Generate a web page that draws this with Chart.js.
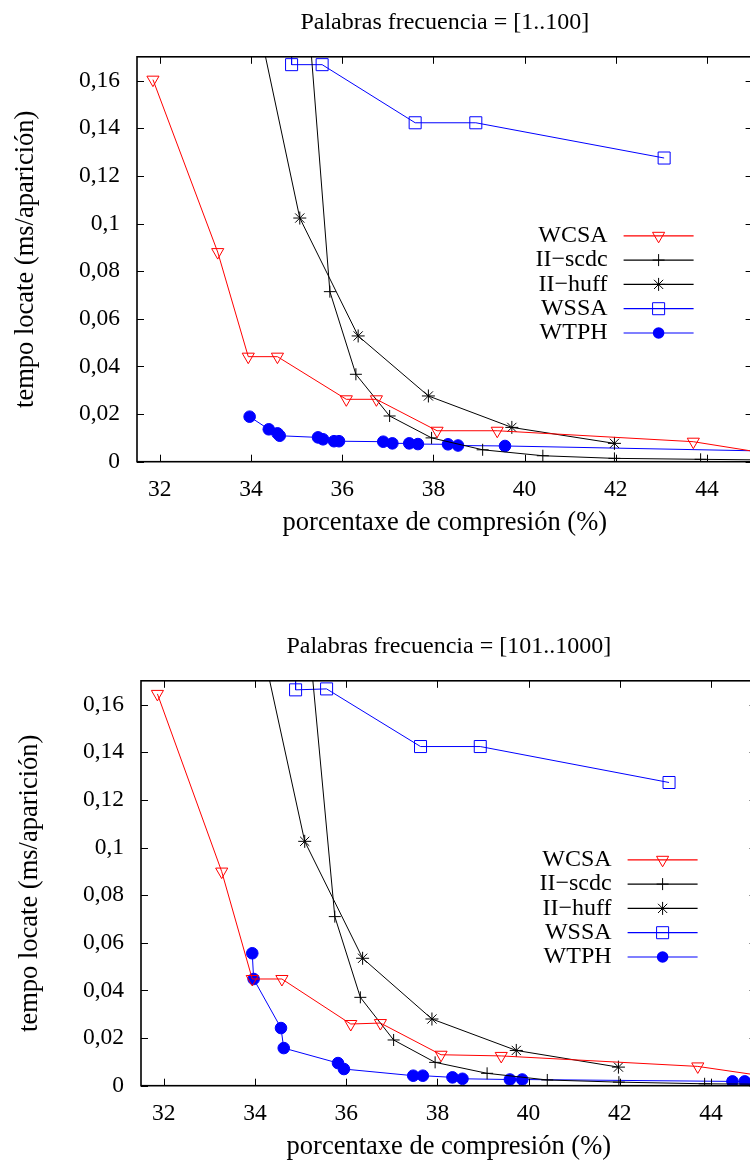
<!DOCTYPE html>
<html><head><meta charset="utf-8">
<script src="https://cdn.jsdelivr.net/npm/chart.js"></script>
<style>
html,body{margin:0;padding:0;background:#fff;overflow:hidden;width:750px;height:1164px;position:relative;}
canvas{position:absolute;}
#c1{left:0;top:0;}
#c2{left:4px;top:624px;}
</style></head>
<body>
<canvas id="c1" width="770" height="540"></canvas>
<canvas id="c2" width="770" height="540"></canvas>
<script>
// ---------- data ----------
const seriesNames = ['WCSA', 'II\u2212scdc', 'II\u2212huff', 'WSSA', 'WTPH'];
const titles = ['Palabras frecuencia = [1..100]', 'Palabras frecuencia = [101..1000]'];
const xAxisTitle = 'porcentaxe de compresión (%)';
const yAxisTitle = 'tempo locate (ms/aparición)';
const xTicks = [32, 34, 36, 38, 40, 42, 44];
const xTickLabels = ['32', '34', '36', '38', '40', '42', '44'];
const yTicks = [0, 0.02, 0.04, 0.06, 0.08, 0.1, 0.12, 0.14, 0.16];
const yTickLabels = ['0', '0,02', '0,04', '0,06', '0,08', '0,1', '0,12', '0,14', '0,16'];

// chart 1: [1..100]
const wcsa1X = [31.85, 33.27, 33.94, 34.58, 36.09, 36.75, 38.08, 39.40, 43.70, 45.5];
const wcsa1Y = [0.1604, 0.0880, 0.0441, 0.0441, 0.0262, 0.0262, 0.0130, 0.0130, 0.0084, 0.0029];
const scdc1X = [35.00, 35.73, 36.30, 37.04, 37.96, 39.08, 40.40, 41.97, 43.86, 46.0];
const scdc1Y = [0.25, 0.0714, 0.0367, 0.0192, 0.0100, 0.0050, 0.0025, 0.0014, 0.0010, 0.0006];
const huff1X = [33.43, 35.07, 36.35, 37.89, 39.72, 41.97];
const huff1Y = [0.25, 0.1023, 0.0528, 0.0276, 0.0144, 0.0077];
const wssa1X = [34.88, 34.89, 35.56, 37.60, 38.93, 43.06];
const wssa1Y = [0.35, 0.1667, 0.1667, 0.1423, 0.1423, 0.1275];
const wtph1X = [33.97, 34.39, 34.58, 34.63, 35.47, 35.58, 35.82, 35.93, 36.90, 37.10, 37.47, 37.66, 38.32, 38.54, 39.57, 45.5];
const wtph1Y = [0.0189, 0.0136, 0.0119, 0.0109, 0.0102, 0.0094, 0.0086, 0.0086, 0.0084, 0.0077, 0.0077, 0.0074, 0.0073, 0.0068, 0.0066, 0.0044];

// chart 2: [101..1000]
const wcsa2X = [31.86, 33.27, 33.94, 34.59, 36.10, 36.75, 38.08, 39.40, 43.71, 45.5];
const wcsa2Y = [0.1645, 0.0899, 0.0448, 0.0448, 0.0259, 0.0263, 0.0130, 0.0125, 0.0081, 0.0031];
const scdc2X = [34.88, 35.75, 36.31, 37.04, 37.95, 39.09, 40.41, 41.98, 43.86, 46.0];
const scdc2Y = [0.25, 0.0710, 0.0371, 0.0192, 0.0098, 0.0052, 0.0024, 0.0015, 0.0008, 0.0005];
const huff2X = [33.41, 35.09, 36.36, 37.88, 39.73, 41.97];
const huff2Y = [0.25, 0.1026, 0.0535, 0.0280, 0.0148, 0.0078];
const wssa2X = [34.88, 34.89, 35.57, 37.63, 38.94, 43.08];
const wssa2Y = [0.35, 0.1662, 0.1666, 0.1424, 0.1424, 0.1273];
const wtph2X = [33.94, 33.97, 34.57, 34.63, 35.82, 35.95, 37.47, 37.68, 38.33, 38.55, 39.59, 39.86, 44.47, 44.74];
const wtph2Y = [0.0556, 0.0448, 0.0242, 0.0158, 0.0095, 0.0070, 0.0042, 0.0042, 0.0035, 0.0029, 0.0026, 0.0026, 0.0018, 0.0018];

// ---------- styling ----------
const FONT = "'Liberation Serif', 'Times New Roman', serif";
const RED = '#ff0000', BLACK = '#000000', BLUE = '#0000ff';
const styles = [
  {color: RED, pointStyle: 'triangle', rotation: 180, radius: 7, fill: 'rgba(0,0,0,0)'},
  {color: BLACK, pointStyle: 'cross', rotation: 0, radius: 6, fill: 'rgba(0,0,0,0)'},
  {color: BLACK, pointStyle: 'star', rotation: 0, radius: 6.5, fill: 'rgba(0,0,0,0)'},
  {color: BLUE, pointStyle: 'rect', rotation: 0, radius: 8.5, fill: 'rgba(0,0,0,0)'},
  {color: BLUE, pointStyle: 'circle', rotation: 0, radius: 5.8, fill: BLUE}
];

function pts(xs, ys) { return xs.map((x, i) => ({x: x, y: ys[i]})); }

function makeDatasets(series) {
  return series.map((s, i) => ({
    label: seriesNames[i],
    data: pts(s[0], s[1]),
    showLine: true,
    borderColor: styles[i].color,
    backgroundColor: styles[i].fill,
    borderWidth: 1,
    pointStyle: styles[i].pointStyle,
    pointRotation: styles[i].rotation,
    pointRadius: styles[i].radius,
    pointBorderWidth: 1,
    pointBorderColor: styles[i].color,
    pointBackgroundColor: styles[i].fill,
    tension: 0
  }));
}

function drawMarker(ctx, st, x, y) {
  const r = st.radius;
  ctx.save();
  ctx.strokeStyle = st.color; ctx.fillStyle = st.fill; ctx.lineWidth = 1;
  ctx.beginPath();
  if (st.pointStyle === 'triangle') {
    ctx.moveTo(x, y + r);
    ctx.lineTo(x - r * Math.sin(Math.PI / 3), y - r / 2);
    ctx.lineTo(x + r * Math.sin(Math.PI / 3), y - r / 2);
    ctx.closePath(); ctx.stroke();
  } else if (st.pointStyle === 'cross') {
    ctx.moveTo(x - r, y); ctx.lineTo(x + r, y);
    ctx.moveTo(x, y - r); ctx.lineTo(x, y + r); ctx.stroke();
  } else if (st.pointStyle === 'star') {
    const d = r * Math.SQRT1_2;
    ctx.moveTo(x - r, y); ctx.lineTo(x + r, y);
    ctx.moveTo(x, y - r); ctx.lineTo(x, y + r);
    ctx.moveTo(x - d, y - d); ctx.lineTo(x + d, y + d);
    ctx.moveTo(x - d, y + d); ctx.lineTo(x + d, y - d); ctx.stroke();
  } else if (st.pointStyle === 'rect') {
    const s = r * Math.SQRT1_2;
    ctx.rect(x - s, y - s, 2 * s, 2 * s); ctx.stroke();
  } else {
    ctx.arc(x, y, r, 0, Math.PI * 2); ctx.fillStyle = st.fill; ctx.fill();
  }
  ctx.restore();
}

const framePlugin = {
  id: 'frame',
  afterDatasetsDraw(chart) {
    const {ctx, chartArea: a, scales: {x, y}} = chart;
    const L = 7;
    ctx.save();
    ctx.strokeStyle = '#000'; ctx.lineWidth = 1;
    ctx.beginPath();
    xTicks.forEach(v => {
      const px = Math.round(x.getPixelForValue(v)) + 0.5;
      ctx.moveTo(px, a.bottom); ctx.lineTo(px, a.bottom - L);
      ctx.moveTo(px, a.top); ctx.lineTo(px, a.top + L);
    });
    yTicks.forEach(v => {
      const py = Math.round(y.getPixelForValue(v)) + 0.5;
      ctx.moveTo(a.left, py); ctx.lineTo(a.left + L, py);
      ctx.moveTo(a.right, py); ctx.lineTo(a.right - L, py);
    });
    ctx.stroke();
    ctx.lineWidth = 1.6;
    ctx.strokeRect(a.left, a.top, a.right - a.left, a.bottom - a.top);
    ctx.restore();
  }
};

const legendPlugin = {
  id: 'legendRight',
  afterDraw(chart) {
    const {ctx, chartArea: a} = chart;
    chart.data.datasets.forEach((ds, i) => {
      const yy = a.top + 179 + i * 24.3;
      ctx.save();
      ctx.font = '24px ' + FONT;
      ctx.fillStyle = '#000';
      ctx.textAlign = 'right';
      ctx.textBaseline = 'middle';
      ctx.fillText(ds.label, a.right - 145, yy);
      ctx.strokeStyle = styles[i].color;
      ctx.lineWidth = 1.2;
      ctx.beginPath();
      ctx.moveTo(a.right - 129, yy); ctx.lineTo(a.right - 59, yy);
      ctx.stroke();
      ctx.restore();
      drawMarker(ctx, styles[i], a.right - 94, yy);
    });
  }
};

function makeChart(id, title, series) {
  return new Chart(document.getElementById(id), {
    type: 'scatter',
    data: {datasets: makeDatasets(series)},
    options: {
      responsive: false,
      animation: false,
      devicePixelRatio: 1,
      layout: {padding: {left: 0, right: 17.4, top: 0, bottom: 0}},
      plugins: {
        legend: {display: false},
        tooltip: {enabled: false},
        title: {
          display: true, text: title, fullSize: false, color: '#000',
          font: {family: FONT, size: 24, weight: 'normal'},
          padding: {top: 8, bottom: 20}
        }
      },
      scales: {
        x: {
          type: 'linear', min: 31.5, max: 45,
          grid: {display: false, drawTicks: false},
          border: {display: false},
          afterBuildTicks: s => { s.ticks = xTicks.map(v => ({value: v})); },
          afterFit: s => { s.height = 78.3; },
          ticks: {
            color: '#000', font: {family: FONT, size: 23.5}, padding: 14,
            maxRotation: 0, autoSkip: false,
            callback: (v, i) => xTickLabels[i]
          },
          title: {
            display: true, text: xAxisTitle, color: '#000',
            font: {family: FONT, size: 26.5}, padding: {top: 0, bottom: 1.4}
          }
        },
        y: {
          type: 'linear', min: 0, max: 0.17,
          grid: {display: false, drawTicks: false},
          border: {display: false},
          afterBuildTicks: s => { s.ticks = yTicks.map(v => ({value: v})); },
          afterFit: s => { s.width = 137; },
          ticks: {
            color: '#000', font: {family: FONT, size: 23.5}, padding: 17,
            autoSkip: false,
            callback: (v, i) => yTickLabels[i]
          },
          title: {
            display: true, text: yAxisTitle, color: '#000',
            font: {family: FONT, size: 26.5}, padding: {top: 10, bottom: 0}
          }
        }
      }
    },
    plugins: [framePlugin, legendPlugin]
  });
}

makeChart('c1', titles[0], [[wcsa1X, wcsa1Y], [scdc1X, scdc1Y], [huff1X, huff1Y], [wssa1X, wssa1Y], [wtph1X, wtph1Y]]);
makeChart('c2', titles[1], [[wcsa2X, wcsa2Y], [scdc2X, scdc2Y], [huff2X, huff2Y], [wssa2X, wssa2Y], [wtph2X, wtph2Y]]);
</script>
</body></html>
